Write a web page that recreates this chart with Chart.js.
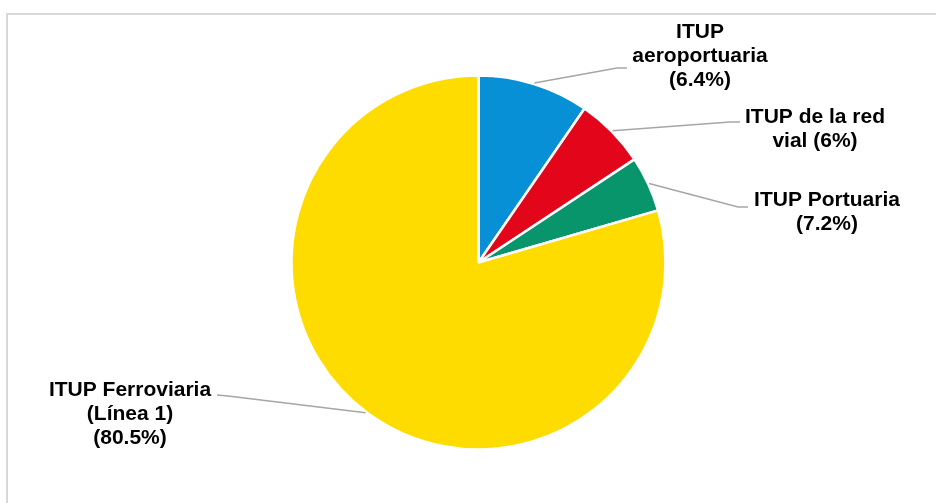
<!DOCTYPE html>
<html>
<head>
<meta charset="utf-8">
<script src="https://cdn.jsdelivr.net/npm/chart.js@4/dist/chart.umd.min.js"></script>
<style>
  html, body { margin: 0; padding: 0; background: #fff; }
  #wrap { position: relative; width: 936px; height: 503px; }
</style>
</head>
<body>
<div id="wrap"><canvas id="chart-canvas" width="936" height="503"></canvas></div>
<script>
'use strict';

// slice sizes as drawn in the picture (share of the circle, %)
var categories = ['ITUP aeroportuaria', 'ITUP de la red vial', 'ITUP Portuaria', 'ITUP Ferroviaria (Línea 1)'];
var shares     = [9.6, 6.1, 4.8, 79.5];
// text printed on the labels
var labelLines = [
	['ITUP', 'aeroportuaria', '(6.4%)'],
	['ITUP de la red', 'vial (6%)'],
	['ITUP Portuaria', '(7.2%)'],
	['ITUP Ferroviaria', '(Línea 1)', '(80.5%)']
];
var colors = ['#0790D6', '#E3061B', '#08956C', '#FEDC00'];

// label layout: text centre x, first line y, elbow of the leader line, end of the leader line
var LABEL_LAYOUT = [
	{ x: 700, y: 32, elbow: [617, 68], end: [627, 68] },
	{ x: 815, y: 117, elbow: [730, 122], end: [740, 122] },
	{ x: 827, y: 200, elbow: [738, 207], end: [748, 207] },
	{ x: 130, y: 390, elbow: [228, 396], end: [217, 395] }
];
var LINE_HEIGHT = 24;

var frame = {
	id: 'frame',
	beforeDraw: function(chart) {
		var ctx = chart.ctx;
		ctx.save();
		ctx.strokeStyle = '#D9D9D9';
		ctx.lineWidth = 2;
		ctx.beginPath();
		ctx.moveTo(7, 503);
		ctx.lineTo(7, 14);
		ctx.lineTo(936, 14);
		ctx.stroke();
		ctx.restore();
	}
};

var callouts = {
	id: 'callouts',
	afterDatasetsDraw: function(chart) {
		var ctx = chart.ctx;
		var arcs = chart.getDatasetMeta(0).data;
		ctx.save();
		arcs.forEach(function(arc, i) {
			var p = arc.getProps(['x', 'y', 'startAngle', 'endAngle', 'outerRadius'], true);
			var mid = (p.startAngle + p.endAngle) / 2;
			var r = p.outerRadius + 1;
			var lay = LABEL_LAYOUT[i];

			ctx.strokeStyle = '#A6A6A6';
			ctx.lineWidth = 1.5;
			ctx.beginPath();
			ctx.moveTo(p.x + Math.cos(mid) * r, p.y + Math.sin(mid) * r);
			ctx.lineTo(lay.elbow[0], lay.elbow[1]);
			ctx.lineTo(lay.end[0], lay.end[1]);
			ctx.stroke();

			ctx.fillStyle = '#000';
			ctx.font = 'bold 21px "Liberation Sans", Arial, sans-serif';
			ctx.textAlign = 'center';
			ctx.textBaseline = 'middle';
			labelLines[i].forEach(function(line, k) {
				ctx.fillText(line, lay.x, lay.y + k * LINE_HEIGHT);
			});
		});
		ctx.restore();
	}
};

var ctx = document.getElementById('chart-canvas');

var myChart = new Chart(ctx, {
	type: 'pie',
	data: {
		labels: categories,
		datasets: [{
			data: shares,
			backgroundColor: colors,
			borderColor: '#FFFFFF',
			borderWidth: 2.5
		}]
	},
	options: {
		responsive: false,
		animation: false,
		events: [],
		radius: 187,
		layout: { padding: { top: 75, bottom: 53, left: 21, right: 0 } },
		plugins: {
			legend: { display: false },
			tooltip: { enabled: false }
		}
	},
	plugins: [frame, callouts]
});
</script>
</body>
</html>
